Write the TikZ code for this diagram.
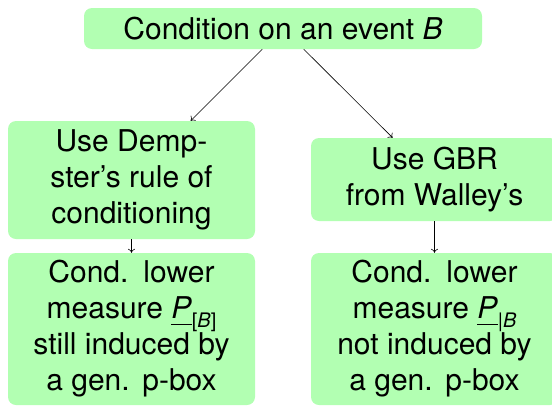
\documentclass[tikz,border=0pt]{standalone}
\usepackage{fontspec}
\setmainfont{TeX Gyre Heros}
\usetikzlibrary{arrows.meta}
\newcommand{\subtxt}[1]{\raisebox{-0.28em}{\fontsize{20}{20}\selectfont #1}}
\newcommand{\lowP}{\underline{\textit{P}\rule[-0.14em]{0pt}{0pt}}}
\begin{document}
\begin{tikzpicture}[x=1pt,y=-1pt,
  box/.style={rectangle, rounded corners=8pt, fill=green!30, inner sep=0pt,
    align=center, font=\fontsize{30}{36}\selectfont, minimum width=247pt},
  conn/.style={-{To[length=4pt,width=7pt]}, line width=0.6pt}]
\useasboundingbox (0,0) rectangle (552,405);
\node[box, minimum width=398pt, minimum height=41pt] (top) at (283,28.5) {Condition on an event \textit{B}};
\node[box, minimum height=118pt] (lm) at (131.5,180) {Use Demp-\\ster’s rule of\\conditioning};
\node[box, minimum height=83pt] (rm) at (434.5,179.5) {Use GBR\\from Walley’s};
\node[box, minimum height=152pt] (lb) at (131.5,329) {Cond.\hspace{0.5em}lower\\measure \lowP\subtxt{[\textit{B}]}\\still induced by\\a gen.\hspace{0.42em}p-box};
\node[box, minimum height=152pt] (rb) at (434.5,329) {Cond.\hspace{0.5em}lower\\measure \lowP\subtxt{|\textit{B}}\\not induced by\\a gen.\hspace{0.42em}p-box};
\draw[conn] (top) -- (lm);
\draw[conn] (top) -- (rm);
\draw[conn] (lm) -- (lb);
\draw[conn] (rm) -- (rb);
\end{tikzpicture}
\end{document}
